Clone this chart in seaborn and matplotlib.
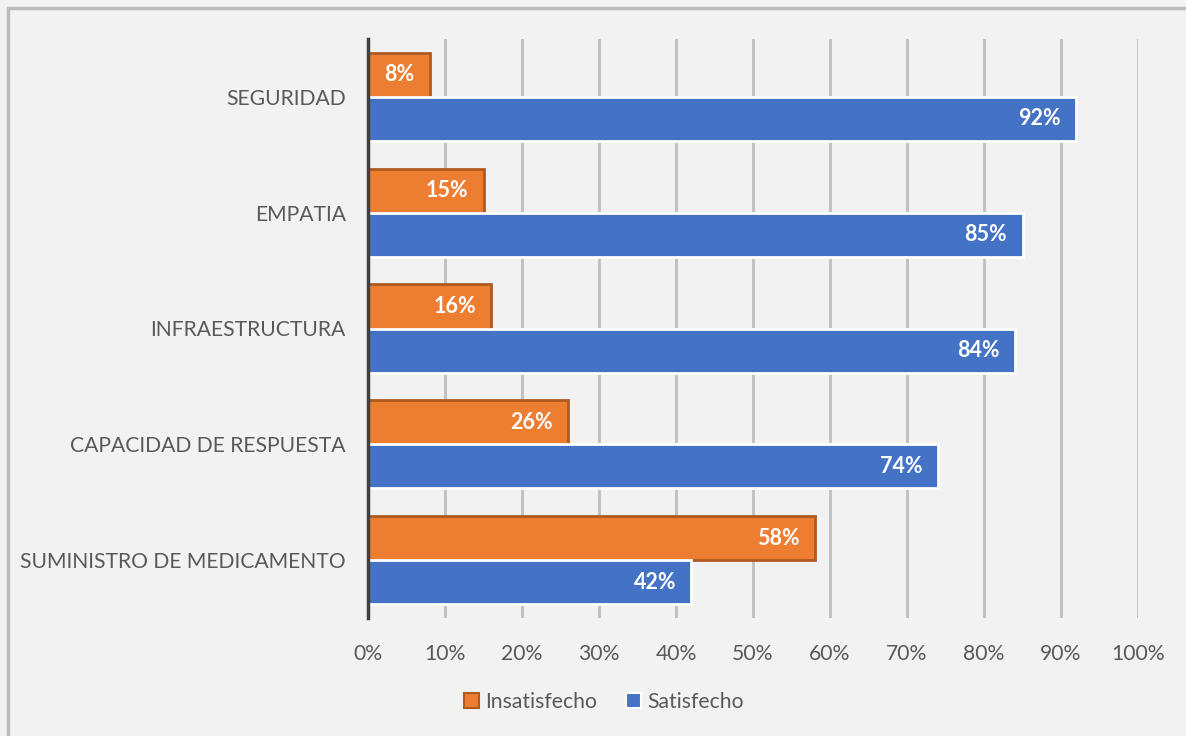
import matplotlib
matplotlib.use("Agg")
import matplotlib.pyplot as plt
import seaborn as sns
import pandas as pd
from matplotlib.patches import Patch, Rectangle

# Survey dimensions and the share of respondents in each group (percent)
dimensiones = ["SEGURIDAD", "EMPATIA", "INFRAESTRUCTURA",
               "CAPACIDAD DE RESPUESTA", "SUMINISTRO DE MEDICAMENTO"]
insatisfecho = [8, 15, 16, 26, 58]
satisfecho = [92, 85, 84, 74, 42]
series = ["Insatisfecho", "Satisfecho"]
x_ticks = [0, 10, 20, 30, 40, 50, 60, 70, 80, 90, 100]

df = pd.DataFrame({
    "dimension": dimensiones * 2,
    "serie": [series[0]] * len(dimensiones) + [series[1]] * len(dimensiones),
    "valor": insatisfecho + satisfecho,
})

BG = "#f2f2f2"
ORANGE = "#ed7d31"
ORANGE_EDGE = "#ae5a21"
BLUE = "#4472c4"
TEXT = "#595959"
GRID = "#bfbfbf"

sns.set_theme(style="white")
plt.rcParams["font.family"] = ["Lato", "DejaVu Sans"]

fig = plt.figure(figsize=(11.86, 7.36), dpi=100, facecolor=BG)
ax = fig.add_axes([368 / 1186, 1 - 618 / 736, 770 / 1186, 579 / 736])
ax.set_facecolor(BG)

sns.barplot(data=df, y="dimension", x="valor", hue="serie",
            order=dimensiones, hue_order=series,
            palette=[ORANGE, BLUE], orient="h", width=0.76,
            saturation=1, ax=ax, legend=False, zorder=3)

# bar outlines: darker orange for the first series, white for the second
for cont, edge in zip(ax.containers, [ORANGE_EDGE, "white"]):
    for bar in cont:
        bar.set_edgecolor(edge)
        bar.set_linewidth(2)

# value labels inside the bar ends
for cont, vals in zip(ax.containers, [insatisfecho, satisfecho]):
    anns = ax.bar_label(cont, labels=[f"{v}%" for v in vals],
                        label_type="edge", padding=-11,
                        color="white", fontsize=15.5, fontweight="bold")
    for a in anns:
        a.set_ha("right")

ax.set_xlim(0, 100)
ax.set_xticks(x_ticks)
ax.set_xticklabels([f"{t}%" for t in x_ticks])
ax.xaxis.grid(True, color=GRID, linewidth=2, zorder=0)
ax.set_axisbelow(True)
ax.set_xlabel("")
ax.set_ylabel("")
ax.tick_params(axis="both", length=0, labelsize=15.2, colors=TEXT)
ax.tick_params(axis="y", pad=16)
ax.tick_params(axis="x", pad=19)

for side in ["top", "right", "bottom"]:
    ax.spines[side].set_visible(False)
ax.spines["left"].set_color("#404040")
ax.spines["left"].set_linewidth(2.5)
ax.spines["left"].set_zorder(4)

handles = [Patch(facecolor=ORANGE, edgecolor=ORANGE_EDGE, linewidth=1.5),
           Patch(facecolor=BLUE, edgecolor="white", linewidth=1.5)]
fig.legend(handles, series, loc="center", bbox_to_anchor=(604 / 1186, 1 - 702 / 736),
           ncol=2, frameon=False, fontsize=15.2, labelcolor=TEXT,
           handlelength=0.7, handleheight=0.7, handletextpad=0.3,
           columnspacing=1.4)

# chart area frame
fig.patches.append(Rectangle((8 / 1186, -0.01), 1.2, 1 - 8 / 736 + 0.01,
                             transform=fig.transFigure, fill=False,
                             edgecolor="#bcbcbc", linewidth=2.5, zorder=0))

fig.savefig("out.png", dpi=100, facecolor=BG)
